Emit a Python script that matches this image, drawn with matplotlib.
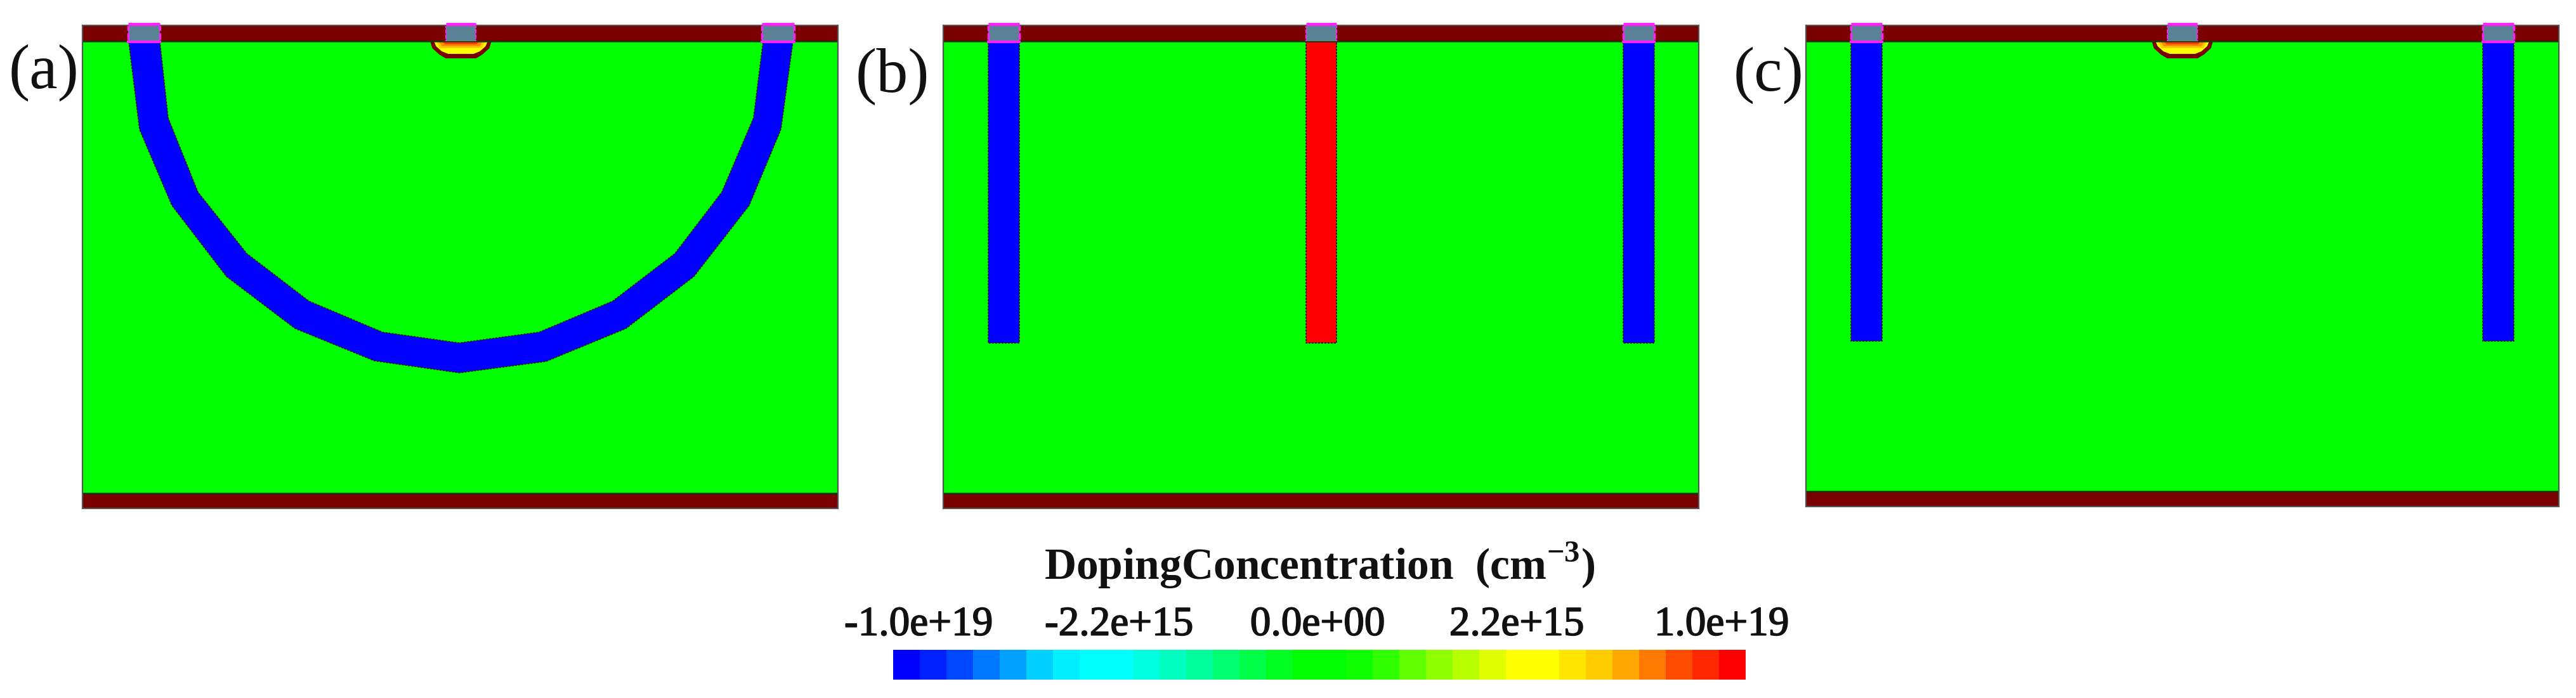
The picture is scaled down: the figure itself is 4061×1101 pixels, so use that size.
"""
Doping concentration maps of three device layouts with a shared colorbar
"""

import matplotlib
matplotlib.use('Agg')
import matplotlib.pyplot as plt
import matplotlib.patheffects as pe
import numpy as np
from matplotlib.colors import ListedColormap
from matplotlib.patches import Polygon, Rectangle

plt.rcParams['font.family'] = ['Liberation Serif', 'DejaVu Serif']
plt.rcParams['mathtext.fontset'] = 'custom'
plt.rcParams['mathtext.rm'] = 'Liberation Serif:bold'
plt.rcParams['mathtext.bf'] = 'Liberation Serif:bold'

FIG_W, FIG_H = 4062, 1101

# Device geometry (x from panel left, y from panel top)
DEVICE_W = 1191
DEVICE_H = 762
TOP_OXIDE = 25
BOTTOM_OXIDE = 24

# Curved trench of panel (a)
curve_outer_x = [73, 90, 141, 227, 335, 460, 594, 731, 857, 964, 1051, 1101, 1120]
curve_outer_y = [26, 164, 284, 396, 478, 529, 548, 530, 478, 396, 284, 164, 26]
curve_inner_x = [122, 135, 182, 259, 357, 473, 594, 720, 836, 934, 1008, 1058, 1073]
curve_inner_y = [26, 146, 263, 360, 435, 484, 501, 484, 435, 360, 263, 146, 26]

# Straight trenches: left, right, depth
trench_b_left = [71, 120]
trench_b_mid = [572, 620]
trench_b_right = [1072, 1121]
trench_b_depth = 501
trench_c_left = [71, 120]
trench_c_right = [1067, 1116]
trench_c_depth = 498

# Contacts per panel
contacts_a = [[72, 122], [573, 620], [1071, 1122]]
contacts_b = [[71, 120], [572, 620], [1072, 1121]]
contacts_c = [[71, 120], [570, 617], [1067, 1116]]

# Implanted well under the central contact, relative to its centre
well_x = [-48, -45, -34, -24, 24, 34, 45, 48]
well_y = [26, 36, 46, 52, 52, 46, 36, 26]
well_yellow_x = [-42, -39, -30, -20, 20, 30, 39, 42]
well_yellow_y = [26, 33, 41, 45, 45, 41, 33, 26]
well_amber_x = [-38, -33, 33, 38]
well_amber_y = [26, 36, 36, 26]
well_orange_x = [-34, -30, 30, 34]
well_orange_y = [26, 33, 33, 26]
well_red_x = [-28, -25, 25, 28]
well_red_y = [26, 30, 30, 26]

# Colorbar
bar_colors = ['#0000ff', '#0020ff', '#0048ff', '#0078ff', '#00a0ff', '#00d0ff',
              '#00f0ff', '#00ffff', '#00ffff', '#00ffe0', '#00ffc0', '#00ff9c',
              '#00ff70', '#00ff48', '#00ff20', '#00ff00', '#00ff00', '#10ff00',
              '#30ff00', '#60ff00', '#90ff00', '#b8ff00', '#e0ff00', '#ffff00',
              '#ffff00', '#ffe600', '#ffcc00', '#ffa600', '#ff7800', '#ff4c00',
              '#ff2800', '#ff0000']
bar_labels = ['-1.0e+19', '-2.2e+15', '0.0e+00', '2.2e+15', '1.0e+19']
bar_label_x = [1448, 1764, 2077, 2391, 2714]

GREEN = '#00ff00'
BLUE = '#0000ff'
RED = '#ff0000'
MAROON = '#7a0000'
CONTACT = '#5a8296'
MAGENTA = '#ff20ff'
EDGE = '#1a1a1a'


def add_axes_px(fig, left, top, width, height):
    """Axes placed in pixel coordinates of the figure, measured from the top"""
    return fig.add_axes([left / FIG_W, 1 - (top + height) / FIG_H,
                         width / FIG_W, height / FIG_H])


def draw_contacts(ax, contacts, boxed=(True, False, True)):
    for (x0, x1), full in zip(contacts, boxed):
        ax.add_patch(Rectangle((x0, -1), x1 - x0, TOP_OXIDE + 1, fc=CONTACT, ec='none', zorder=5))
        # magenta frame sits slightly above the oxide
        ax.plot([x0, x1], [-2, -2], color=MAGENTA, lw=3.5, zorder=8, clip_on=False, solid_capstyle='butt')
        ax.plot([x0, x0], [-2, TOP_OXIDE], color=MAGENTA, lw=2.5 if full else 1.5, ls=(0, (3, 1)), zorder=6)
        ax.plot([x1, x1], [-2, TOP_OXIDE], color=MAGENTA, lw=2.5 if full else 1.5, ls=(0, (3, 1)), zorder=6)
        if full:
            ax.plot([x0, x1], [TOP_OXIDE + 1, TOP_OXIDE + 1], color=MAGENTA, lw=3, zorder=6)


def draw_well(ax, centre):
    for xs, ys, colour in [(well_x, well_y, MAROON),
                           (well_yellow_x, well_yellow_y, '#ffff00'),
                           (well_amber_x, well_amber_y, '#ffc800'),
                           (well_orange_x, well_orange_y, '#ff8c00'),
                           (well_red_x, well_red_y, '#ff3c00')]:
        pts = np.column_stack([np.array(xs) + centre, ys])
        ax.add_patch(Polygon(pts, closed=True, fc=colour, ec='none', zorder=3))


def draw_trench(ax, span, depth, colour):
    ax.add_patch(Rectangle((span[0], TOP_OXIDE), span[1] - span[0], depth - TOP_OXIDE,
                           fc=colour, ec=EDGE, lw=1.2, ls=(0, (2, 1)), zorder=2))


def draw_device(ax, width, height):
    ax.set_xlim(0, width)
    ax.set_ylim(height, 0)
    ax.axis('off')
    bottom_top = height - BOTTOM_OXIDE
    ax.add_patch(Rectangle((0, 0), width, height, fc=GREEN, ec='none', zorder=0))
    ax.add_patch(Rectangle((0, 0), width, TOP_OXIDE, fc=MAROON, ec='none', zorder=1))
    ax.add_patch(Rectangle((0, bottom_top), width, BOTTOM_OXIDE, fc=MAROON, ec='none', zorder=1))
    ax.plot([0, width], [TOP_OXIDE, TOP_OXIDE], color='#103a00', lw=1.8, zorder=4)
    ax.plot([0, width], [bottom_top, bottom_top], color='#103a00', lw=1.8, zorder=4)
    # thin grey frame around the whole device
    ax.add_patch(Rectangle((0, 0), width, height, fc='none', ec='#555555', lw=1.6,
                           zorder=7, clip_on=False))


fig = plt.figure(figsize=(FIG_W / 100, FIG_H / 100), dpi=100, facecolor='white')

# (a) curved trench and well
ax_a = add_axes_px(fig, 130, 40, DEVICE_W, DEVICE_H)
draw_device(ax_a, DEVICE_W, DEVICE_H)
curve = np.column_stack([curve_outer_x + curve_inner_x[::-1], curve_outer_y + curve_inner_y[::-1]])
ax_a.add_patch(Polygon(curve, closed=True, fc=BLUE, ec=EDGE, lw=1.2, ls=(0, (2, 1)), zorder=2))
draw_well(ax_a, np.mean(contacts_a[1]))
draw_contacts(ax_a, contacts_a)

# (b) straight trenches, centre one is p-type
ax_b = add_axes_px(fig, 1487, 40, DEVICE_W, DEVICE_H)
draw_device(ax_b, DEVICE_W, DEVICE_H)
draw_trench(ax_b, trench_b_left, trench_b_depth, BLUE)
draw_trench(ax_b, trench_b_mid, trench_b_depth, RED)
draw_trench(ax_b, trench_b_right, trench_b_depth, BLUE)
draw_contacts(ax_b, contacts_b)

# (c) straight trenches and well
ax_c = add_axes_px(fig, 2847, 40, 1187, 759)
draw_device(ax_c, 1187, 759)
draw_trench(ax_c, trench_c_left, trench_c_depth, BLUE)
draw_trench(ax_c, trench_c_right, trench_c_depth, BLUE)
draw_well(ax_c, np.mean(contacts_c[1]))
draw_contacts(ax_c, contacts_c)

# Panel letters
for letter, x, y in [('(a)', 69, 115), ('(b)', 1407, 121), ('(c)', 2788, 119)]:
    fig.text(x / FIG_W, 1 - y / FIG_H, letter, fontsize=72, ha='center', va='center', color='#111111')

# Colorbar
ax_bar = add_axes_px(fig, 1408, 1025, 1344, 47)
ax_bar.pcolormesh(np.arange(len(bar_colors) + 1), [0, 1],
                  np.arange(len(bar_colors)).reshape(1, -1),
                  cmap=ListedColormap(bar_colors), vmin=-0.5, vmax=len(bar_colors) - 0.5)
ax_bar.axis('off')

for label, x in zip(bar_labels, bar_label_x):
    fig.text(x / FIG_W, 1 - 986 / FIG_H, label, fontsize=47, ha='center', va='center', color='#111111',
             path_effects=[pe.withStroke(linewidth=1.2, foreground='#111111')])

fig.text(2080 / FIG_W, 1 - 892 / FIG_H, r'DopingConcentration  (cm$^{\mathbf{-3}}$)',
         fontsize=50, fontweight='bold', ha='center', va='center', color='#111111')

plt.savefig('out.png', dpi=100)
